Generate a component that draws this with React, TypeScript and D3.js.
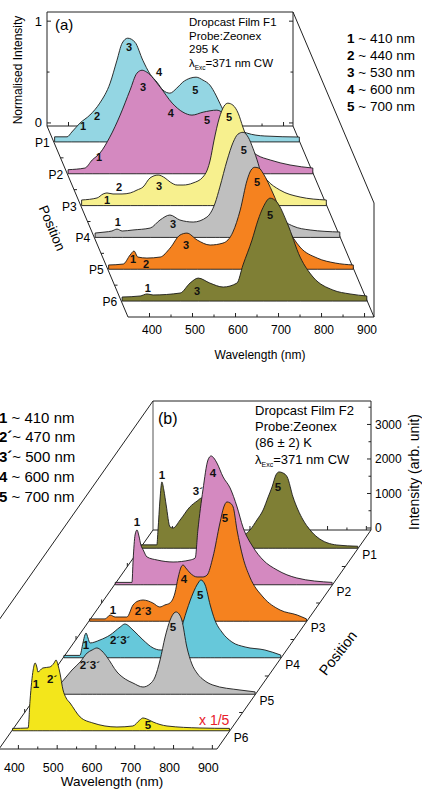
import React from "react";
import * as d3 from "d3";

type Pt = [number, number];
type Lbl = [number, number, number, string];

const positions = ["P1", "P2", "P3", "P4", "P5", "P6"];
const wavelengthTicks = [400, 500, 600, 700, 800, 900];
const wavelengthMinorTicks = [450, 550, 650, 750, 850];
const normTicks = [0, 1];
const normMinorTicks = [0.5];
const intensityTicks = [0, 1000, 2000, 3000];
const intensityMinorTicks = [500, 1500, 2500, 3500];

const legendA: [string, string][] = [
  ["1", " ~ 410 nm"],
  ["2", " ~ 440 nm"],
  ["3", " ~ 530 nm"],
  ["4", " ~ 600 nm"],
  ["5", " ~ 700 nm"],
];
const legendB: [string, string][] = [
  ["1", " ~ 410 nm"],
  ["2´", "~ 470 nm"],
  ["3´", "~ 500 nm"],
  ["4", " ~ 600 nm"],
  ["5", " ~ 700 nm"],
];

// ---------- Panel (a): normalised spectra, 295 K ----------
const a_P1: Pt[] = [[352,0.02],[381,0.02],[392,0.067],[411,0.155],[434,0.234],[457,0.351],[481,0.547],[497,0.773],[509,0.94],[522,0.989],[539,0.949],[557,0.773],[574,0.636],[590,0.557],[604,0.479],[620,0.449],[636,0.498],[650,0.557],[667,0.596],[681,0.606],[697,0.577],[713,0.528],[727,0.43],[736,0.351],[750,0.234],[771,0.126],[799,0.057],[841,0.028],[921,0.018]];
const a_P2: Pt[] = [[352,0.01],[391,0.026],[408,0.105],[426,0.173],[449,0.33],[473,0.546],[496,0.791],[512,0.958],[524,0.987],[535,0.968],[566,0.821],[594,0.664],[619,0.575],[640,0.546],[666,0.575],[698,0.595],[717,0.546],[740,0.399],[763,0.252],[791,0.154],[822,0.105],[868,0.056],[921,0.026]];
const a_P3: Pt[] = [[352,0.025],[388,0.045],[402,0.084],[411,0.094],[425,0.084],[446,0.084],[465,0.094],[481,0.123],[495,0.153],[511,0.241],[530,0.27],[546,0.241],[558,0.201],[574,0.172],[588,0.172],[611,0.192],[634,0.25],[644,0.319],[651,0.417],[660,0.613],[672,0.829],[683,0.946],[692,0.976],[704,0.956],[716,0.878],[727,0.741],[744,0.545],[760,0.368],[783,0.221],[813,0.123],[860,0.054],[921,0.025]];
const a_P4: Pt[] = [[352,0.013],[375,0.023],[391,0.033],[403,0.052],[415,0.033],[440,0.043],[480,0.062],[503,0.141],[526,0.19],[549,0.141],[580,0.121],[612,0.17],[631,0.307],[642,0.464],[659,0.729],[673,0.905],[684,0.984],[696,1.003],[708,0.954],[719,0.846],[731,0.699],[742,0.533],[759,0.337],[782,0.17],[812,0.082],[852,0.043],[921,0.023]];
const a_P5: Pt[] = [[352,0.012],[386,0.021],[402,0.11],[411,0.149],[420,0.09],[441,0.08],[472,0.09],[495,0.178],[518,0.306],[534,0.325],[558,0.257],[588,0.208],[618,0.227],[641,0.335],[658,0.551],[674,0.845],[683,0.943],[692,0.972],[702,0.963],[711,0.914],[734,0.718],[767,0.384],[797,0.188],[837,0.08],[879,0.031],[921,0.012]];
const a_P6: Pt[] = [[352,0.01],[394,0.02],[410,0.04],[424,0.03],[487,0.049],[510,0.147],[529,0.196],[556,0.147],[587,0.108],[619,0.147],[633,0.324],[654,0.569],[668,0.765],[680,0.892],[696,0.981],[712,0.942],[736,0.736],[766,0.402],[796,0.206],[842,0.079],[882,0.04],[921,0.02]];
const seriesA = [a_P1, a_P2, a_P3, a_P4, a_P5, a_P6];
const colorsA = ["#94d6e3", "#d489c0", "#f7f08e", "#bfbfbf", "#f5821f", "#7f7f35"];
const labelsA: Lbl[] = [
  [0,418,0.126,"1"],[0,451,0.224,"2"],[0,525,0.9,"3"],[0,595,0.655,"4"],[0,679,0.479,"5"],
  [1,424,0.134,"1"],[1,526,0.82,"3"],[1,591,0.566,"4"],[1,675,0.497,"5"],
  [2,411,0.025,"1"],[2,439,0.152,"2"],[2,532,0.162,"3"],[2,695,0.839,"5"],
  [3,405,0.121,"1"],[3,533,0.101,"3"],[3,698,0.827,"5"],
  [4,409,0.07,"1"],[4,439,0.021,"2"],[4,532,0.208,"3"],[4,697,0.825,"5"],
  [5,412,0.098,"1"],[5,526,0.069,"3"],[5,696,0.814,"5"],
];

// ---------- Panel (b): intensity spectra, 86 K ----------
const b_P1: Pt[] = [[352,40],[393,40],[396,470],[401,1340],[406,1863],[411,1630],[417,1196],[427,558],[435,529],[453,761],[478,1138],[497,1312],[509,1399],[517,1283],[535,905],[561,558],[594,384],[620,355],[633,471],[651,761],[667,1051],[680,1428],[690,1718],[700,2066],[708,2153],[718,2124],[729,2008],[744,1428],[757,1051],[770,761],[788,471],[806,268],[857,36],[911,0]];
const b_P2: Pt[] = [[352,10],[395,10],[398,659],[403,1384],[408,1529],[413,1355],[418,1094],[424,949],[434,746],[460,659],[501,601],[545,659],[558,717],[565,1529],[578,2688],[591,3558],[599,3674],[606,3616],[614,3471],[630,3065],[648,2746],[666,2196],[681,1616],[707,1036],[733,659],[769,370],[820,138],[911,10]];
const b_P3: Pt[] = [[352,10],[392,10],[405,123],[418,65],[448,65],[464,413],[477,529],[490,558],[503,529],[515,471],[533,355],[546,413],[559,471],[572,761],[580,1196],[588,1515],[593,1573],[600,1486],[611,1341],[629,1225],[644,1225],[655,1283],[670,1804],[688,2790],[698,3254],[706,3399],[714,3370],[722,3254],[732,2587],[747,1804],[765,1225],[799,645],[843,268],[887,123],[911,10]];
const b_P4: Pt[] = [[352,10],[393,10],[401,370],[406,601],[409,659],[414,514],[419,370],[445,457],[471,601],[497,833],[509,920],[530,746],[556,457],[582,225],[600,167],[625,167],[641,312],[651,659],[669,1326],[685,1818],[698,2108],[705,2196],[716,2051],[729,1471],[741,1036],[759,688],[785,399],[819,254],[870,167],[911,20]];
const b_P5: Pt[] = [[352,10],[395,65],[413,297],[426,471],[439,645],[460,877],[478,1138],[491,1225],[503,1283],[516,1196],[529,1022],[555,587],[576,384],[596,268],[622,152],[640,239],[653,442],[666,935],[679,1602],[692,2094],[702,2297],[707,2326],[715,2268],[722,2094],[735,1312],[748,819],[761,558],[782,326],[802,210],[872,65],[911,10]];
const b_P6: Pt[] = [[352,10],[392,22],[397,833],[405,1703],[410,1906],[415,1761],[417,1645],[430,1761],[448,1790],[459,1906],[464,1993],[469,1848],[474,1616],[482,1123],[490,891],[500,746],[526,341],[559,167],[621,51],[662,80],[680,254],[688,312],[698,283],[714,196],[750,80],[835,22],[911,10]];
const seriesB = [b_P1, b_P2, b_P3, b_P4, b_P5, b_P6];
const colorsB = ["#7f7f35", "#d489c0", "#f5821f", "#66c8da", "#bfbfbf", "#f3e61b"];
const labelsB: Lbl[] = [
  [0,406,2065,"1"],[0,499,1601,"3´"],[0,705,1717,"5"],
  [1,408,1761,"1"],[1,604,3181,"4"],
  [2,412,268,"1"],[2,490,239,"2´3"],[2,595,1167,"4"],[2,701,2935,"5"],
  [3,409,311,"1"],[3,497,456,"2´3´"],[3,703,1761,"5"],
  [4,485,790,"2´3´"],[4,699,1892,"5"],
  [5,412,1297,"1"],[5,454,1442,"2´"],[5,701,109,"5"],
];

const FONT = "'Liberation Sans', Arial, Helvetica, sans-serif";
const LINE = "#222";

function areaPath(data: Pt[], xs: d3.ScaleLinear<number, number>, ys: d3.ScaleLinear<number, number>, ox: number, oy: number) {
  return (
    d3
      .area<Pt>()
      .x((d) => ox + xs(d[0]))
      .y0(oy)
      .y1((d) => oy + ys(d[1]))
      .curve(d3.curveMonotoneX)(data) || ""
  );
}

export default function App() {
  // Panel (a) geometry
  const xA = d3.scaleLinear().domain([350, 922]).range([0, 246]);
  const yA = d3.scaleLinear().domain([-0.03, 1.09]).range([0, -114]);
  const oxA = d3.scaleLinear().domain([0, 6]).range([47, 128]);
  const oyA = d3.scaleLinear().domain([0, 6]).range([126, 317]);
  const wA = xA.range()[1];
  const hA = yA(1.09);
  const bAx = oxA(0), bAy = oyA(0), fAx = oxA(6), fAy = oyA(6);

  // Panel (b) geometry
  const xB = d3.scaleLinear().domain([350, 912]).range([0, 218]);
  const yB = d3.scaleLinear().domain([-58, 3680]).range([0, -129]);
  const oxB = d3.scaleLinear().domain([0, 6]).range([153, -1]);
  const oyB = d3.scaleLinear().domain([0, 6]).range([530, 749]);
  const wB = xB.range()[1];
  const hB = yB(3680);
  const bBx = oxB(0), bBy = oyB(0), fBx = oxB(6), fBy = oyB(6);

  const allTicks = [...wavelengthTicks.map((t) => [t, 4] as [number, number]), ...wavelengthMinorTicks.map((t) => [t, 2.5] as [number, number])];

  return (
    <svg
      width={422}
      height={791}
      style={{ position: "absolute", left: 0, top: 0, background: "#fff" }}
      fontFamily={FONT}
    >
      <rect x={0} y={0} width={422} height={791} fill="#fff" />

      {/* ================= PANEL (a) ================= */}
      <g stroke={LINE} strokeWidth={1} fill="none">
        <line x1={bAx} y1={bAy + hA} x2={bAx} y2={bAy} />
        <line x1={bAx} y1={bAy + hA} x2={bAx + wA} y2={bAy + hA} />
        <line x1={bAx + wA} y1={bAy + hA} x2={bAx + wA} y2={bAy} />
        <line x1={bAx} y1={bAy} x2={bAx + wA} y2={bAy} />
        <line x1={bAx + wA} y1={bAy + hA} x2={fAx + wA} y2={fAy + hA} />
        <line x1={fAx + wA} y1={fAy + hA} x2={fAx + wA} y2={fAy} />
        <line x1={bAx} y1={bAy} x2={fAx} y2={fAy} />
        <line x1={bAx + wA} y1={bAy} x2={fAx + wA} y2={fAy} />
        <line x1={fAx} y1={fAy} x2={fAx + wA} y2={fAy} />
        {allTicks.map(([t, len]) => (
          <g key={"at" + t}>
            <line x1={fAx + xA(t)} y1={fAy} x2={fAx + xA(t)} y2={fAy - len} />
            <line x1={bAx + xA(t)} y1={bAy} x2={bAx + xA(t)} y2={bAy - len} />
          </g>
        ))}
        {[...normTicks.map((v) => [v, 4]), ...normMinorTicks.map((v) => [v, 2.5])].map(([v, len]) => (
          <g key={"an" + v}>
            <line x1={bAx} y1={bAy + yA(v)} x2={bAx + len} y2={bAy + yA(v)} />
            <line x1={bAx + wA} y1={bAy + yA(v)} x2={bAx + wA - len} y2={bAy + yA(v)} />
          </g>
        ))}
        {[1, 2, 3, 4, 5].map((k) => (
          <line key={"ap" + k} x1={oxA(k)} y1={oyA(k)} x2={oxA(k) + 3} y2={oyA(k)} />
        ))}
      </g>

      {seriesA.map((s, i) => {
        const ox = oxA(i + 0.5);
        const oy = oyA(i + 0.5);
        return (
          <g key={"sa" + i}>
            <path d={areaPath(s, xA, yA, ox, oy)} fill={colorsA[i]} stroke="#1a1a1a" strokeWidth={0.9} strokeLinejoin="round" />
            {labelsA
              .filter((l) => l[0] === i)
              .map((l, j) => (
                <text key={j} x={ox + xA(l[1])} y={oy + yA(l[2])} fontSize={11} fontWeight="bold" textAnchor="middle" dominantBaseline="central" fill="#111">
                  {l[3]}
                </text>
              ))}
          </g>
        );
      })}

      {/* (a) texts */}
      <text x={55} y={30} fontSize={15}>(a)</text>
      <text x={42} y={bAy + yA(1) + 4.5} fontSize={13} textAnchor="end">1</text>
      <text x={42} y={bAy + yA(0) + 4.5} fontSize={13} textAnchor="end">0</text>
      <text transform={`translate(22,70) rotate(-90)`} fontSize={12} textAnchor="middle">Normalised Intensity</text>
      <g fontSize={11.5}>
        <text x={189} y={26}>Dropcast Film F1</text>
        <text x={189} y={39.5}>Probe:Zeonex</text>
        <text x={189} y={53}>295 K</text>
        <text x={189} y={67}>
          λ<tspan dy={2.5} fontSize={6.5}>Exc</tspan>
          <tspan dy={-2.5}>=371 nm CW</tspan>
        </text>
      </g>
      {legendA.map((l, i) => (
        <text key={"la" + i} x={347} y={42.5 + i * 17.2} fontSize={13.5}>
          <tspan fontWeight="bold">{l[0]}</tspan>
          {l[1]}
        </text>
      ))}
      {positions.map((p, i) => (
        <text key={"pa" + i} x={oxA(i + 0.5) - 4} y={oyA(i + 0.5) + 5} fontSize={12} textAnchor="end">{p}</text>
      ))}
      <text transform={`translate(52,228) rotate(67)`} fontSize={13.5} textAnchor="middle" dominantBaseline="central">Position</text>
      {wavelengthTicks.map((t) => (
        <text key={"wa" + t} x={fAx + xA(t) + 2.5} y={333.5} fontSize={12} textAnchor="middle">{t}</text>
      ))}
      <text x={260} y={359} fontSize={12} textAnchor="middle">Wavelength (nm)</text>

      {/* ================= PANEL (b) ================= */}
      <g stroke={LINE} strokeWidth={1} fill="none">
        <line x1={bBx} y1={bBy + hB} x2={bBx} y2={bBy} stroke="#555" />
        <line x1={bBx} y1={bBy + hB} x2={bBx + wB} y2={bBy + hB} />
        <line x1={bBx + wB} y1={bBy + hB} x2={bBx + wB} y2={bBy} />
        <line x1={bBx} y1={bBy} x2={bBx + wB} y2={bBy} />
        <line x1={bBx} y1={bBy + hB} x2={fBx} y2={fBy + hB} />
        <line x1={bBx} y1={bBy} x2={fBx} y2={fBy} />
        <line x1={bBx + wB} y1={bBy} x2={fBx + wB} y2={fBy} />
        <line x1={fBx} y1={fBy} x2={fBx + wB} y2={fBy} />
        {allTicks.map(([t, len]) => (
          <g key={"bt" + t}>
            <line x1={fBx + xB(t)} y1={fBy} x2={fBx + xB(t)} y2={fBy - len} />
            <line x1={bBx + xB(t)} y1={bBy} x2={bBx + xB(t)} y2={bBy - len} />
          </g>
        ))}
        {[...intensityTicks.map((v) => [v, 4]), ...intensityMinorTicks.map((v) => [v, 2.5])].map(([v, len]) => (
          <line key={"bi" + v} x1={bBx + wB} y1={bBy + yB(v)} x2={bBx + wB - len} y2={bBy + yB(v)} />
        ))}
        {[1, 2, 3, 4, 5].map((k) => (
          <g key={"bp" + k}>
            <line x1={oxB(k)} y1={oyB(k)} x2={oxB(k)} y2={oyB(k) - 3.5} />
            <line x1={oxB(k) + wB} y1={oyB(k)} x2={oxB(k) + wB - 3.5} y2={oyB(k)} />
          </g>
        ))}
      </g>

      {seriesB.map((s, i) => {
        const ox = oxB(i + 0.5);
        const oy = oyB(i + 0.5);
        return (
          <g key={"sb" + i}>
            <path d={areaPath(s, xB, yB, ox, oy)} fill={colorsB[i]} stroke="#1a1a1a" strokeWidth={0.9} strokeLinejoin="round" />
            {labelsB
              .filter((l) => l[0] === i)
              .map((l, j) => (
                <text key={j} x={ox + xB(l[1])} y={oy + yB(l[2])} fontSize={11.5} fontWeight="bold" textAnchor="middle" dominantBaseline="central" fill="#111">
                  {l[3]}
                </text>
              ))}
          </g>
        );
      })}

      {/* (b) texts */}
      <text x={158} y={424} fontSize={16}>(b)</text>
      <g fontSize={13}>
        <text x={255} y={415}>Dropcast Film F2</text>
        <text x={255} y={431}>Probe:Zeonex</text>
        <text x={255} y={447}>(86 ± 2) K</text>
        <text x={255} y={464}>
          λ<tspan dy={3} fontSize={7}>Exc</tspan>
          <tspan dy={-3}>=371 nm CW</tspan>
        </text>
      </g>
      {intensityTicks.map((v) => (
        <text key={"bil" + v} x={bBx + wB + 4} y={bBy + yB(v) + 4.3} fontSize={12}>{v}</text>
      ))}
      <text transform={`translate(419,472) rotate(-90)`} fontSize={14} textAnchor="middle">Intensity (arb. unit)</text>
      {legendB.map((l, i) => (
        <text key={"lb" + i} x={-1} y={422.5 + i * 19.8} fontSize={15}>
          <tspan fontWeight="bold">{l[0]}</tspan>
          {l[1]}
        </text>
      ))}
      {positions.map((p, i) => (
        <text key={"pb" + i} x={oxB(i + 0.5) + wB + 4} y={oyB(i + 0.5) + 11} fontSize={12}>{p}</text>
      ))}
      <text transform={`translate(338,653) rotate(-52)`} fontSize={14.5} textAnchor="middle" dominantBaseline="central">Position</text>
      <text x={199} y={725} fontSize={14} fill="#e8202a">x 1/5</text>
      {wavelengthTicks.map((t) => (
        <text key={"wb" + t} x={fBx + xB(t) - 4} y={771.5} fontSize={12.5} textAnchor="middle">{t}</text>
      ))}
      <text x={112} y={786} fontSize={13.5} textAnchor="middle">Wavelength (nm)</text>
    </svg>
  );
}
